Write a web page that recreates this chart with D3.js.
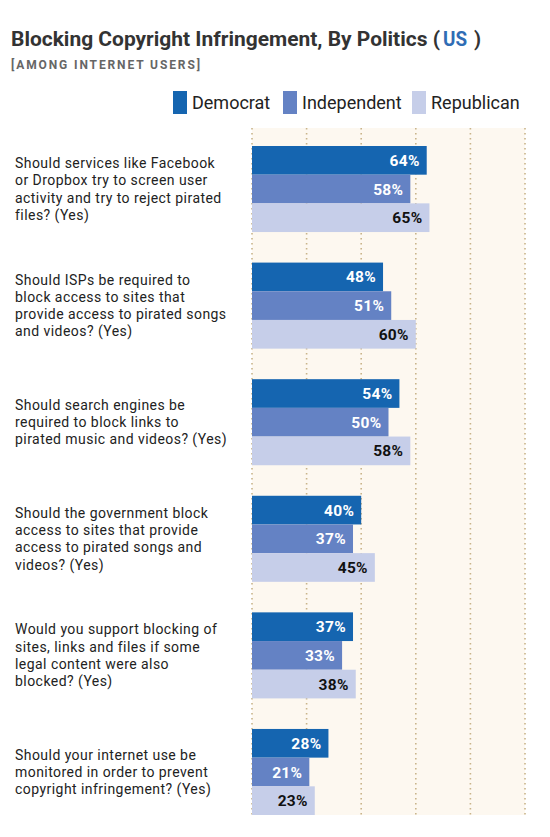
<!DOCTYPE html>
<html>
<head>
<meta charset="utf-8">
<script src="https://cdn.jsdelivr.net/npm/d3@7"></script>
<style>
  body { margin: 0; background: #fff; }
  svg { display: block; font-family: Roboto, "Noto Sans", sans-serif; }
</style>
</head>
<body>
<div id="chart"></div>
<script>
// data
var questions = [
  ["Should services like Facebook", "or Dropbox try to screen user", "activity and try to reject pirated", "files? (Yes)"],
  ["Should ISPs be required to", "block access to sites that", "provide access to pirated songs", "and videos? (Yes)"],
  ["Should search engines be", "required to block links to", "pirated music and videos? (Yes)"],
  ["Should the government block", "access to sites that provide", "access to pirated songs and", "videos? (Yes)"],
  ["Would you support blocking of", "sites, links and files if some", "legal content were also", "blocked? (Yes)"],
  ["Should your internet use be", "monitored in order to prevent", "copyright infringement? (Yes)"]
];
var series = ["Democrat", "Independent", "Republican"];
var democrat = [64, 48, 54, 40, 37, 28];
var independent = [58, 51, 50, 37, 33, 21];
var republican = [65, 60, 58, 45, 38, 23];
var gridTicks = [0, 20, 40, 60, 80, 100];

var colors = {Democrat: "#1565b0", Independent: "#6482c4", Republican: "#c6cee9"};
var labelColors = {Democrat: "#fff", Independent: "#fff", Republican: "#111"};

const W = 550, H = 837;

var svg = d3.select("#chart")
  .append("svg")
  .attr("width", W)
  .attr("height", H);

// title, in three pieces so the blue "US" sits where it does in the original
svg.append("text")
  .attr("x", 11)
  .attr("y", 46)
  .attr("textLength", 429)
  .attr("lengthAdjust", "spacingAndGlyphs")
  .style("font-size", "20px")
  .style("font-weight", "700")
  .style("fill", "#333")
  .text("Blocking Copyright Infringement, By Politics (");
svg.append("text")
  .attr("x", 443)
  .attr("y", 46)
  .attr("textLength", 24)
  .attr("lengthAdjust", "spacingAndGlyphs")
  .style("font-size", "20px")
  .style("font-weight", "700")
  .style("fill", "#2f6db5")
  .text("US");
svg.append("text")
  .attr("x", 474)
  .attr("y", 46)
  .style("font-size", "20px")
  .style("font-weight", "700")
  .style("fill", "#333")
  .text(")");

svg.append("text")
  .attr("x", 11)
  .attr("y", 68.5)
  .attr("textLength", 189)
  .attr("lengthAdjust", "spacing")
  .style("font-size", "12px")
  .style("font-weight", "700")
  .style("fill", "#666")
  .text("[AMONG INTERNET USERS]");

// legend
var legendX = [173, 283, 412];
var legend = svg.selectAll(".legend")
  .data(series)
  .enter()
  .append("g")
  .attr("class", "legend")
  .attr("transform", function(d, i) {return "translate(" + legendX[i] + ",91)";});
legend.append("rect")
  .attr("width", 14)
  .attr("height", 23)
  .style("fill", function(d) {return colors[d];});
legend.append("text")
  .attr("x", 19)
  .attr("y", 18)
  .style("font-size", "18px")
  .style("fill", "#222")
  .text(function(d) {return d;});

// scales
var x = d3.scaleLinear()
  .domain([0, 100])
  .range([252, 525]);

var y = d3.scaleBand()
  .domain(d3.range(questions.length))
  .range([146, 815])
  .paddingInner(0.262)
  .paddingOuter(0);

var ySeries = d3.scaleBand()
  .domain(series)
  .range([0, y.bandwidth()]);

// panel background
svg.append("rect")
  .attr("x", x(0))
  .attr("y", 128)
  .attr("width", x(100) - x(0))
  .attr("height", 815 - 128)
  .style("fill", "#fdf8f0");

// dotted grid
svg.selectAll(".grid")
  .data(gridTicks)
  .enter()
  .append("line")
  .attr("class", "grid")
  .attr("x1", function(d) {return x(d);})
  .attr("x2", function(d) {return x(d);})
  .attr("y1", 128)
  .attr("y2", 815)
  .style("stroke", "#c9b48a")
  .style("stroke-width", 1.6)
  .style("stroke-dasharray", "1.6,3.4");

// bars
var rows = questions.map(function(q, i) {
  return [
    {key: "Democrat", value: democrat[i]},
    {key: "Independent", value: independent[i]},
    {key: "Republican", value: republican[i]}
  ];
});

var groups = svg.selectAll(".group")
  .data(rows)
  .enter()
  .append("g")
  .attr("class", "group")
  .attr("transform", function(d, i) {return "translate(0," + y(i) + ")";});

groups.selectAll(".bar")
  .data(function(d) {return d;})
  .enter()
  .append("rect")
  .attr("class", "bar")
  .attr("x", x(0))
  .attr("y", function(d) {return ySeries(d.key);})
  .attr("width", function(d) {return x(d.value) - x(0);})
  .attr("height", ySeries.bandwidth())
  .style("fill", function(d) {return colors[d.key];});

groups.selectAll(".value")
  .data(function(d) {return d;})
  .enter()
  .append("text")
  .attr("class", "value")
  .attr("x", function(d) {return x(d.value) - 7;})
  .attr("y", function(d) {return ySeries(d.key) + ySeries.bandwidth() / 2;})
  .attr("dy", "0.36em")
  .style("text-anchor", "end")
  .style("font-size", "15.5px")
  .style("font-weight", "700")
  .style("letter-spacing", "0.3px")
  .style("fill", function(d) {return labelColors[d.key];})
  .text(function(d) {return d.value + "%";});

// question labels, centred on each group
var lineH = 17.3;
svg.selectAll(".question")
  .data(questions)
  .enter()
  .append("text")
  .attr("class", "question")
  .style("font-size", "14px")
  .style("letter-spacing", "0.45px")
  .style("fill", "#222")
  .each(function(lines, i) {
    var cy = y(i) + y.bandwidth() / 2;
    var top = cy - (lines.length - 1) * lineH / 2;
    d3.select(this).selectAll("tspan")
      .data(lines)
      .enter()
      .append("tspan")
      .attr("x", 15)
      .attr("y", function(d, j) {return top + j * lineH;})
      .attr("dy", "0.35em")
      .text(function(d) {return d;});
  });
</script>
</body>
</html>
